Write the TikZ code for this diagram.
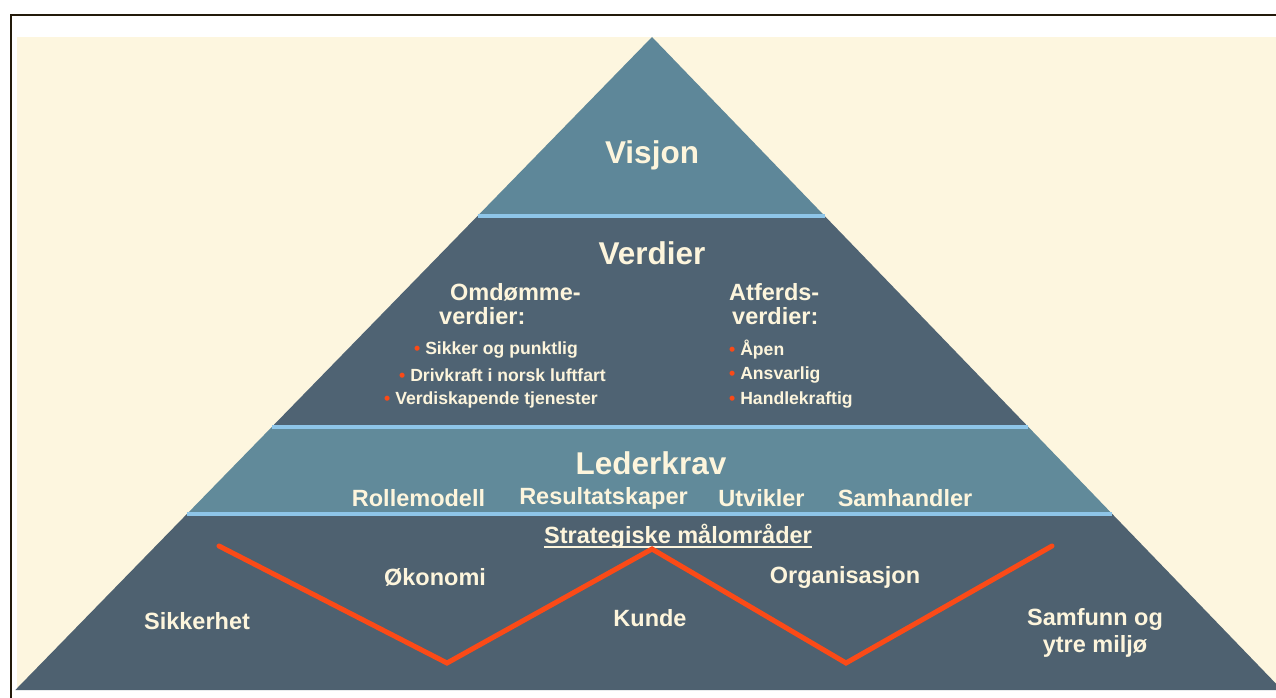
\documentclass[tikz,border=0pt]{standalone}
\usepackage{fontspec}
\setmainfont{Liberation Sans}
\definecolor{cream}{HTML}{FDF6DF}
\definecolor{framec}{HTML}{231A0A}
\definecolor{tierA}{HTML}{5E8799}
\definecolor{tierB}{HTML}{4F6373}
\definecolor{tierC}{HTML}{618A9A}
\definecolor{tierD}{HTML}{4E6170}
\definecolor{sepc}{HTML}{8EC5E8}
\definecolor{txt}{HTML}{FDF5DC}
\definecolor{zz}{HTML}{FB4A17}
\begin{document}
\begin{tikzpicture}[x=1pt,y=-1pt,
  big/.style={text=txt, inner sep=0pt, font=\bfseries\fontsize{31.5}{36}\selectfont},
  mid/.style={text=txt, inner sep=0pt, align=left, anchor=north west, font=\bfseries\fontsize{23.5}{24}\selectfont},
  lbl/.style={text=txt, inner sep=0pt, font=\bfseries\fontsize{23.5}{27}\selectfont},
  itm/.style={text=txt, inner sep=0pt, anchor=west, font=\bfseries\fontsize{17.6}{20}\selectfont},
  seprule/.style={draw=sepc, line width=4pt},
  zig/.style={draw=zz, line width=5pt, line cap=round, line join=miter},
]
\newcommand{\bul}{\textcolor{zz}{•}\ }
\useasboundingbox (0,0) rectangle (1276,698);
\clip (0,0) rectangle (1276,698);
\fill[white] (0,0) rectangle (1276,698);
\fill[cream] (17,37) rectangle (1276,690);
\draw[framec, line width=2.5pt] (1300,15) -- (11,15) -- (11,720);
% tiers
\coordinate (apex) at (652,37);
\coordinate (l1) at (477.5,216);  \coordinate (r1) at (824.7,216);
\coordinate (l2) at (271.8,427);  \coordinate (r2) at (1028.4,427);
\coordinate (l3) at (186.9,514);  \coordinate (r3) at (1112.3,514);
\coordinate (l4) at (15.3,690);   \coordinate (r4) at (1282.1,690);
\fill[tierA] (apex) -- (r1) -- (l1) -- cycle;
\fill[tierB] (l1) -- (r1) -- (r2) -- (l2) -- cycle;
\fill[tierC] (l2) -- (r2) -- (r3) -- (l3) -- cycle;
\fill[tierD] (l3) -- (r3) -- (r4) -- (l4) -- cycle;
\draw[seprule] (l1) -- (r1);
\draw[seprule] (l2) -- (r2);
\draw[seprule] (l3) -- (r3);
% texts
\node[big] (visjon) at (652,155) {Visjon};
\node[big] (verdier) at (652,253) {Verdier};
\node[mid] (omd) at (439,283) {\hspace*{11pt}Omdømme-\\verdier:};
\node[mid] (atf) at (729,283) {Atferds-\\\hspace*{3pt}verdier:};
\node[itm] (o1) at (414,350) {\bul Sikker og punktlig};
\node[itm] (o2) at (399,375) {\bul Drivkraft i norsk luftfart};
\node[itm] (o3) at (384,400) {\bul Verdiskapende tjenester};
\node[itm] (a1) at (729,350) {\bul Åpen};
\node[itm] (a2) at (729,375) {\bul Ansvarlig};
\node[itm] (a3) at (729,400) {\bul Handlekraftig};
\node[big] (leder) at (651,463) {Lederkrav};
\node[lbl] (rolle) at (418.5,498) {Rollemodell};
\node[lbl] (result) at (603.5,498) {Resultatskaper};
\node[lbl] (utv) at (761.5,498) {Utvikler};
\node[lbl] (samh) at (905,498) {Samhandler};
\node[lbl, anchor=base] (strat) at (678,543) {Strategiske målområder};
\draw[txt, line width=2pt] ([yshift=-4pt]strat.base west) -- ([yshift=-4pt]strat.base east);
\node[lbl] (okon) at (435,577) {Økonomi};
\node[lbl] (org) at (845,577) {Organisasjon};
\node[lbl] (sikk) at (197,621) {Sikkerhet};
\node[lbl] (kunde) at (650,618) {Kunde};
\node[lbl, align=center] (samf) at (1095,633) {Samfunn og\\ytre miljø};
% zigzag
\coordinate (z1) at (219,546);
\coordinate (z2) at (447,663);
\coordinate (z3) at (652,549);
\coordinate (z4) at (846,663);
\coordinate (z5) at (1052,546);
\draw[zig] (z1) -- (z2) -- (z3) -- (z4) -- (z5);
\end{tikzpicture}
\end{document}
